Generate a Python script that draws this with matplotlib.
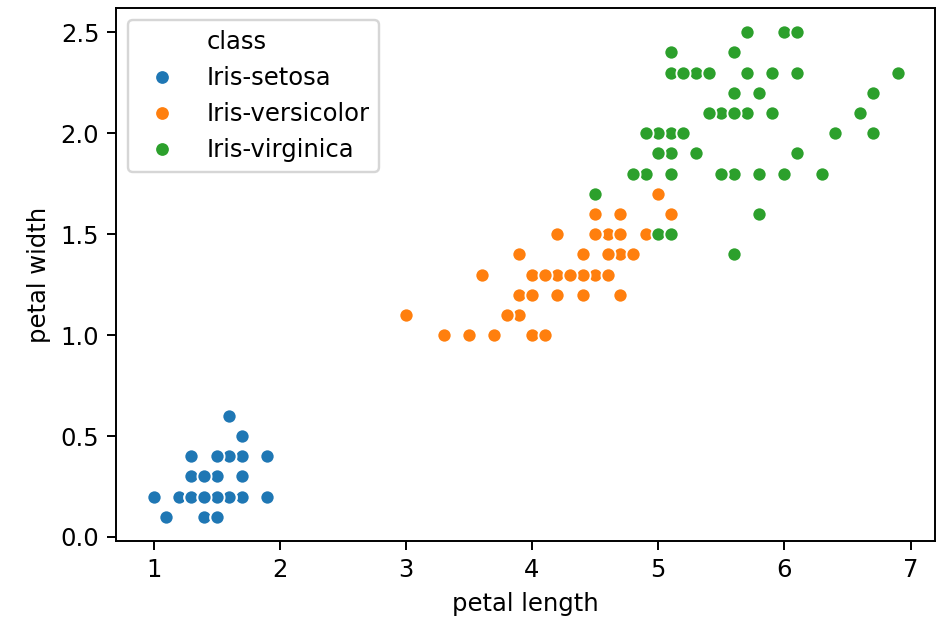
import matplotlib
matplotlib.use('Agg')
import matplotlib.pyplot as plt
from matplotlib.lines import Line2D

# iris petal measurements per class
classes = ['Iris-setosa', 'Iris-versicolor', 'Iris-virginica']
colors = ['#1f77b4', '#ff7f0e', '#2ca02c']

setosa_length = [1.4, 1.4, 1.3, 1.5, 1.4, 1.7, 1.4, 1.5, 1.4, 1.5, 1.5, 1.6, 1.4, 1.1, 1.2, 1.5, 1.3, 1.4, 1.7, 1.5,
                 1.7, 1.5, 1.0, 1.7, 1.9, 1.6, 1.6, 1.5, 1.4, 1.6, 1.6, 1.5, 1.5, 1.4, 1.5, 1.2, 1.3, 1.5, 1.3, 1.5,
                 1.3, 1.3, 1.3, 1.6, 1.9, 1.4, 1.6, 1.4, 1.5, 1.4]
setosa_width = [0.2, 0.2, 0.2, 0.2, 0.2, 0.4, 0.3, 0.2, 0.2, 0.1, 0.2, 0.2, 0.1, 0.1, 0.2, 0.4, 0.4, 0.3, 0.3, 0.3,
                0.2, 0.4, 0.2, 0.5, 0.2, 0.2, 0.4, 0.2, 0.2, 0.2, 0.2, 0.4, 0.1, 0.2, 0.1, 0.2, 0.2, 0.1, 0.2, 0.2,
                0.3, 0.3, 0.2, 0.6, 0.4, 0.3, 0.2, 0.2, 0.2, 0.2]

versicolor_length = [4.7, 4.5, 4.9, 4.0, 4.6, 4.5, 4.7, 3.3, 4.6, 3.9, 3.5, 4.2, 4.0, 4.7, 3.6, 4.4, 4.5, 4.1, 4.5, 3.9,
                     4.8, 4.0, 4.9, 4.7, 4.3, 4.4, 4.8, 5.0, 4.5, 3.5, 3.8, 3.7, 3.9, 5.1, 4.5, 4.5, 4.7, 4.4, 4.1, 4.0,
                     4.4, 4.6, 4.0, 3.3, 4.2, 4.2, 4.2, 4.3, 3.0, 4.1]
versicolor_width = [1.4, 1.5, 1.5, 1.3, 1.5, 1.3, 1.6, 1.0, 1.3, 1.4, 1.0, 1.5, 1.0, 1.4, 1.3, 1.4, 1.5, 1.0, 1.5, 1.1,
                    1.8, 1.3, 1.5, 1.2, 1.3, 1.4, 1.4, 1.7, 1.5, 1.0, 1.1, 1.0, 1.2, 1.6, 1.5, 1.6, 1.5, 1.3, 1.3, 1.3,
                    1.2, 1.4, 1.2, 1.0, 1.3, 1.2, 1.3, 1.3, 1.1, 1.3]

virginica_length = [6.0, 5.1, 5.9, 5.6, 5.8, 6.6, 4.5, 6.3, 5.8, 6.1, 5.1, 5.3, 5.5, 5.0, 5.1, 5.3, 5.5, 6.7, 6.9, 5.0,
                    5.7, 4.9, 6.7, 4.9, 5.7, 6.0, 4.8, 4.9, 5.6, 5.8, 6.1, 6.4, 5.6, 5.1, 5.6, 6.1, 5.6, 5.5, 4.8, 5.4,
                    5.6, 5.1, 5.1, 5.9, 5.7, 5.2, 5.0, 5.2, 5.4, 5.1]
virginica_width = [2.5, 1.9, 2.1, 1.8, 2.2, 2.1, 1.7, 1.8, 1.8, 2.5, 2.0, 1.9, 2.1, 2.0, 2.4, 2.3, 1.8, 2.2, 2.3, 1.5,
                   2.3, 2.0, 2.0, 1.8, 2.1, 1.8, 1.8, 1.8, 2.1, 1.6, 1.9, 2.0, 2.2, 1.5, 1.4, 2.3, 2.4, 1.8, 1.8, 2.1,
                   2.4, 2.3, 1.9, 2.3, 2.5, 2.3, 1.9, 2.0, 2.3, 1.8]

lengths = [setosa_length, versicolor_length, virginica_length]
widths = [setosa_width, versicolor_width, virginica_width]

DPI = 175
fig, ax = plt.subplots(figsize=(938 / DPI, 619 / DPI), dpi=DPI)
fig.subplots_adjust(left=0.124, right=0.997, top=0.987, bottom=0.126)

for name, c, x, y in zip(classes, colors, lengths, widths):
    ax.scatter(x, y, s=34, color=c, edgecolor='white', linewidth=0.75, label=name)

ax.set_xlabel('petal length')
ax.set_ylabel('petal width')
ax.set_xticks([1, 2, 3, 4, 5, 6, 7])
ax.set_yticks([0.0, 0.5, 1.0, 1.5, 2.0, 2.5])

# legend with the title shown as a blank entry, like older seaborn
handles = [Line2D([], [], linestyle='none', marker=None)]
labels = ['class']
for name, c in zip(classes, colors):
    handles.append(Line2D([], [], linestyle='none', marker='o', markersize=6,
                          markerfacecolor=c, markeredgecolor='white', markeredgewidth=0.75))
    labels.append(name)
ax.legend(handles, labels, loc='upper left')

plt.savefig('out.png', dpi=DPI)
